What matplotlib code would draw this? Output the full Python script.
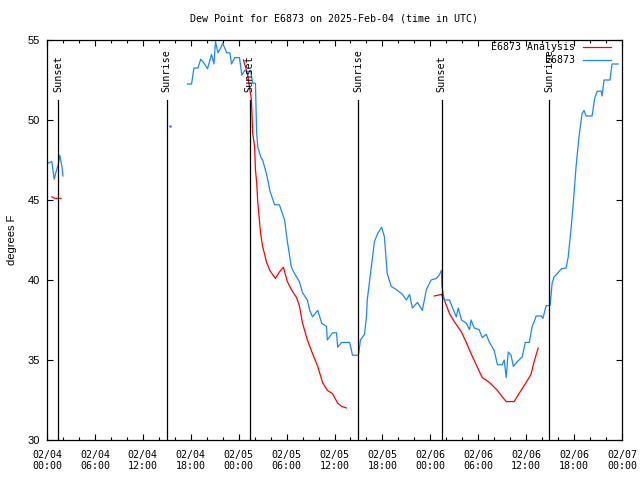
import matplotlib
matplotlib.use('Agg')
import matplotlib.pyplot as plt
from matplotlib.ticker import MultipleLocator

# hours since 2025-02-04 00:00 UTC
obs_hours = [
    [0.1, 0.6, 0.9, 1.1, 1.4, 1.6, 1.9, 2.0],
    [15.4],
    [17.6, 18.1, 18.4, 18.9, 19.25, 19.6, 20.1, 20.6, 20.9, 21.1, 21.4, 21.75,
     22.0, 22.5, 22.9, 23.1, 23.5, 24.1, 24.4, 24.75, 25.1, 25.5, 25.75, 26.1,
     26.25, 26.4, 26.75, 27.0, 27.5, 27.9, 28.5, 29.1, 29.75, 30.1, 30.6, 31.0,
     31.6, 32.0, 32.6, 32.9, 33.25, 33.9, 34.4, 35.0, 35.1, 35.75, 36.25, 36.4,
     36.9, 37.9, 38.25, 39.0, 39.25, 39.75, 40.0, 40.1, 40.6, 41.0, 41.4, 41.9,
     42.25, 42.6, 43.1, 43.75, 44.5, 45.0, 45.4, 45.75, 46.4, 47.0, 47.5, 48.1,
     48.75, 49.1, 49.4, 49.45, 49.75, 50.4, 50.75, 51.25, 51.5, 51.9, 52.5, 52.9,
     53.1, 53.5, 54.1, 54.5, 55.0, 55.4, 56.0, 56.4, 57.0, 57.25, 57.5, 57.75,
     58.1, 58.4, 58.9, 59.5, 59.9, 60.4, 60.75, 61.0, 61.25, 61.9, 62.1, 62.5,
     63.0, 63.25, 63.5, 63.9, 64.4, 65.0, 65.25, 65.6, 65.9, 66.25, 66.6, 67.0,
     67.25, 67.5, 68.25, 68.6, 68.9, 69.4, 69.5, 69.75, 70.5, 70.75, 71.5],
]
obs_dewpt = [
    [47.3, 47.4, 46.3, 46.7, 47.2, 47.8, 47.0, 46.5],
    [49.6],
    [52.25, 52.25, 53.25, 53.25, 53.8, 53.6, 53.2, 54.1, 53.5, 54.9, 54.2, 54.5,
     54.8, 54.2, 54.2, 53.5, 53.9, 53.9, 52.8, 53.1, 53.0, 53.1, 52.3, 52.3,
     49.2, 48.3, 47.7, 47.5, 46.6, 45.6, 44.7, 44.7, 43.75, 42.4, 40.8, 40.4,
     39.9, 39.2, 38.75, 38.1, 37.7, 38.1, 37.3, 37.1, 36.25, 36.7, 36.7, 35.8,
     36.1, 36.1, 35.3, 35.3, 36.25, 36.6, 37.7, 38.75, 40.8, 42.4, 42.9, 43.3,
     42.7, 40.4, 39.6, 39.4, 39.1, 38.75, 39.1, 38.25, 38.6, 38.1, 39.4, 40.0,
     40.1, 40.3, 40.6, 39.6, 38.75, 38.75, 38.3, 37.7, 38.25, 37.5, 37.3, 36.9,
     37.5, 37.0, 36.9, 36.4, 36.6, 36.1, 35.6, 34.7, 34.7, 35.0, 33.9, 35.5,
     35.3, 34.6, 34.9, 35.2, 36.1, 36.1, 37.1, 37.4, 37.75, 37.75, 37.6, 38.4,
     38.4, 39.8, 40.2, 40.4, 40.7, 40.75, 41.4, 43.1, 44.8, 47.1, 48.9, 50.4,
     50.6, 50.25, 50.25, 51.4, 51.8, 51.8, 51.5, 52.5, 52.5, 53.5, 53.5],
]

ana_hours = [
    [0.6, 1.0, 1.75],
    [24.6, 25.1, 25.6, 25.75, 26.0, 26.1, 26.25, 26.4, 26.75, 27.0, 27.5, 27.9,
     28.6, 29.1, 29.6, 30.1, 30.6, 31.25, 31.6, 32.0, 32.6, 33.25, 33.9, 34.5,
     35.1, 35.75, 36.4, 36.9, 37.5],
    [48.5, 49.4, 49.75, 50.4, 51.0, 51.9, 52.5, 53.1, 53.75, 54.5, 55.4, 56.4,
     57.0, 57.5, 58.5, 59.1, 60.0, 60.6, 61.0, 61.5],
]
ana_dewpt = [
    [45.2, 45.1, 45.1],
    [53.75, 52.9, 51.25, 49.2, 48.3, 46.9, 46.1, 44.8, 42.9, 42.1, 41.1, 40.6,
     40.1, 40.5, 40.8, 39.9, 39.4, 38.9, 38.4, 37.3, 36.25, 35.4, 34.6, 33.6,
     33.1, 32.9, 32.3, 32.1, 32.0],
    [39.0, 39.1, 38.75, 37.9, 37.4, 36.75, 36.1, 35.4, 34.7, 33.9, 33.6, 33.1,
     32.7, 32.4, 32.4, 32.9, 33.6, 34.1, 34.9, 35.75],
]

sun_hours = [1.4, 15.0, 25.4, 39.0, 49.4, 62.9]
sun_labels = ['Sunset', 'Sunrise', 'Sunset', 'Sunrise', 'Sunset', 'Sunrise']

tick_hours = list(range(0, 73, 6))
tick_labels = ['02/04\n00:00', '02/04\n06:00', '02/04\n12:00', '02/04\n18:00',
               '02/05\n00:00', '02/05\n06:00', '02/05\n12:00', '02/05\n18:00',
               '02/06\n00:00', '02/06\n06:00', '02/06\n12:00', '02/06\n18:00',
               '02/07\n00:00']

mono = 'DejaVu Sans Mono'
sans = 'Liberation Sans'
red = '#ff0000'
blue = '#1a86ff'

fig = plt.figure(figsize=(6.4, 4.8), dpi=100)
ax = fig.add_axes([47 / 640, 40 / 480, 575 / 640, 400 / 480])

for i, (h, v) in enumerate(zip(ana_hours, ana_dewpt)):
    ax.plot(h, v, color=red, lw=0.9, label='E6873 Analysis' if i == 0 else None)
for i, (h, v) in enumerate(zip(obs_hours, obs_dewpt)):
    if len(h) == 1:
        ax.plot(h, v, color=blue, marker='s', ms=0.8, lw=0)
    else:
        ax.plot(h, v, color=blue, lw=0.9, label='E6873' if i == 0 else None)

for h, lab in zip(sun_hours, sun_labels):
    ax.plot([h, h], [30, 51.25], color='black', lw=0.9)
    ax.text(h, 51.75, lab, rotation=90, ha='center', va='bottom',
            fontsize=7.3, family=mono)

ax.set_xlim(0, 72)
ax.set_ylim(30, 55)
ax.set_xticks(tick_hours)
ax.set_xticklabels(tick_labels, family=mono, fontsize=7.2)
ax.xaxis.set_minor_locator(MultipleLocator(2))
ax.set_yticks([30, 35, 40, 45, 50, 55])
ax.set_yticklabels(['30', '35', '40', '45', '50', '55'], family=sans, fontsize=8)
ax.tick_params(which='both', direction='in', top=True, right=True, width=0.8)
ax.tick_params(which='major', length=4)
ax.tick_params(which='minor', length=2)
ax.tick_params(axis='x', pad=7)
ax.tick_params(axis='y', pad=5)
for sp in ax.spines.values():
    sp.set_linewidth(0.9)

ax.set_ylabel('degrees F', family=sans, fontsize=8)
ax.yaxis.set_label_coords(-0.052, 0.5)
ax.set_title('Dew Point for E6873 on 2025-Feb-04 (time in UTC)',
             family=mono, fontsize=7.2, pad=13)

leg = ax.legend(loc='upper right', bbox_to_anchor=(0.98, 0.995), frameon=False,
                markerfirst=False, handlelength=2.8, handletextpad=0.8,
                borderpad=0, borderaxespad=0, labelspacing=0.3,
                prop={'family': mono, 'size': 7.1})

fig.savefig('out.png', dpi=100)
